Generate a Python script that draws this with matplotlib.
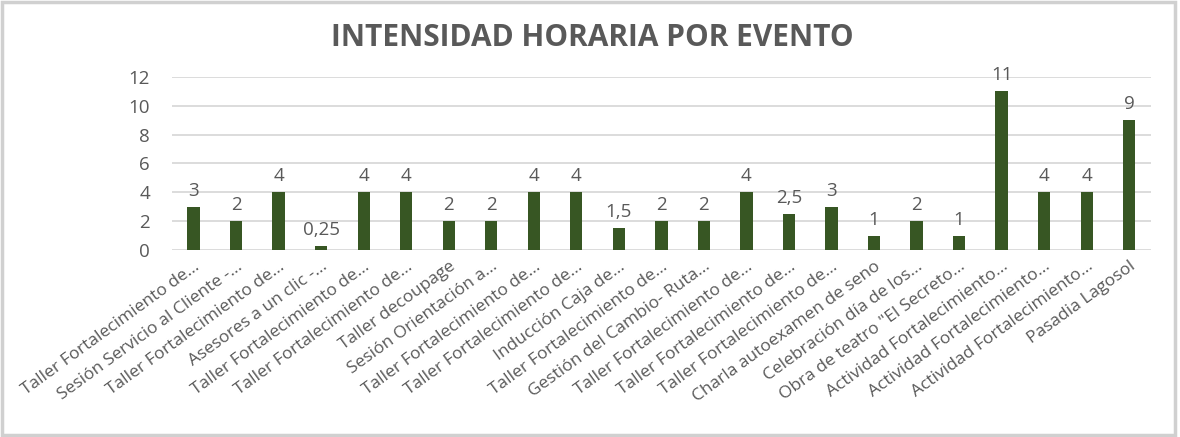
import matplotlib
matplotlib.use("Agg")
import matplotlib.pyplot as plt
from matplotlib.patches import Rectangle

plt.rcParams['font.family'] = ['Open Sans', 'DejaVu Sans']

categories = [
    "Taller Fortalecimiento de...",
    "Sesión Servicio al Cliente -...",
    "Taller Fortalecimiento de...",
    "Asesores a un clic -...",
    "Taller Fortalecimiento de...",
    "Taller Fortalecimiento de...",
    "Taller decoupage",
    "Sesión Orientación a...",
    "Taller Fortalecimiento de...",
    "Taller Fortalecimiento de...",
    "Inducción Caja de...",
    "Taller Fortalecimiento de...",
    "Gestión del Cambio- Ruta...",
    "Taller Fortalecimiento de...",
    "Taller Fortalecimiento de...",
    "Taller Fortalecimiento de...",
    "Charla autoexamen de seno",
    "Celebración día de los...",
    "Obra de teatro \"El Secreto...",
    "Actividad Fortalecimiento...",
    "Actividad Fortalecimiento...",
    "Actividad Fortalecimiento...",
    "Pasadia Lagosol",
]
values = [3, 2, 4, 0.25, 4, 4, 2, 2, 4, 4, 1.5, 2, 2, 4, 2.5, 3, 1, 2, 1, 11, 4, 4, 9]
yticks = [0, 2, 4, 6, 8, 10, 12]
title = "INTENSIDAD HORARIA POR EVENTO"

text_color = "#595959"
bar_color = "#375623"
grid_color = "#d9d9d9"

fig = plt.figure(figsize=(11.8, 4.37), dpi=100)
ax = fig.add_axes([0.146, 0.428, 0.829, 0.396])

x = list(range(len(values)))
ax.bar(x, values, width=0.29, color=bar_color, zorder=3)

def fmt(v):
    return ("%g" % v).replace(".", ",")

for xi, v in zip(x, values):
    ax.annotate(fmt(v), (xi, v), xytext=(0, 5), textcoords="offset points",
                ha="center", va="bottom", fontsize=13.5, color=text_color,
                annotation_clip=False, zorder=4)

ax.set_xlim(-0.5, len(values) - 0.5)
ax.set_ylim(0, 12)
ax.set_yticks(yticks)
ax.set_yticklabels([str(t) for t in yticks], fontsize=13.5, color=text_color)
ax.yaxis.grid(True, color=grid_color, linewidth=1.3, zorder=0)
ax.set_axisbelow(True)
for s in ax.spines.values():
    s.set_visible(False)
ax.tick_params(axis="both", length=0)
ax.tick_params(axis="y", pad=16)
ax.set_xticks(x)
ax.set_xticklabels(categories, rotation=36, ha="right", rotation_mode="anchor",
                   fontsize=12.5, color=text_color)
ax.tick_params(axis="x", pad=6)

fig.text(0.502, 0.912, title, ha="center", va="center", fontsize=21.5,
         fontweight="bold", color=text_color)

fig.patches.append(Rectangle((0.002, 0.004), 0.994, 0.992, transform=fig.transFigure,
                             fill=False, edgecolor="#d0d0d0", linewidth=2.5))

fig.savefig("out.png", dpi=100)
